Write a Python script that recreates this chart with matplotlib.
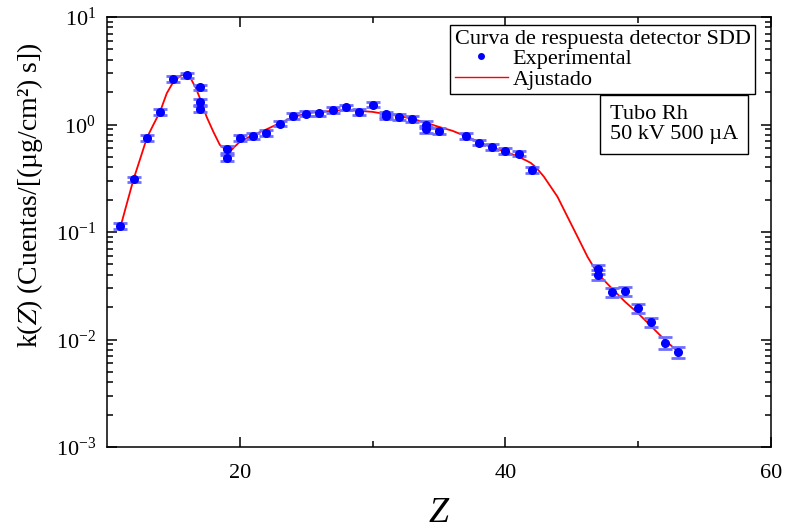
import matplotlib
matplotlib.use("Agg")
import matplotlib.pyplot as plt
from matplotlib.lines import Line2D
from matplotlib.ticker import LogLocator, FixedLocator, NullFormatter
import numpy as np

plt.rcParams["font.family"] = ["Liberation Serif", "DejaVu Serif"]
plt.rcParams["mathtext.fontset"] = "stix"

# Experimental response points
z_exp = [11, 12, 13, 14, 15, 16, 17, 17, 17, 19, 19, 20, 21, 22, 23, 24, 25, 26,
         27, 28, 29, 30, 31, 31, 32, 33, 34, 34, 35, 37, 38, 39, 40, 41, 42,
         47, 47, 48, 49, 50, 51, 52, 53]
k_exp = [0.113, 0.31, 0.75, 1.31, 2.65, 2.87, 2.22, 1.63, 1.39, 0.587, 0.49, 0.75,
         0.78, 0.83, 1.02, 1.20, 1.26, 1.27, 1.36, 1.45, 1.31, 1.53, 1.24, 1.19,
         1.18, 1.13, 1.00, 0.90, 0.87, 0.79, 0.68, 0.62, 0.57, 0.535, 0.378,
         0.045, 0.040, 0.0275, 0.028, 0.0195, 0.0145, 0.0093, 0.0077]
k_err = [0.007, 0.018, 0.045, 0.08, 0.15, 0.16, 0.13, 0.10, 0.09, 0.04, 0.035, 0.045,
         0.045, 0.05, 0.06, 0.07, 0.07, 0.07, 0.08, 0.08, 0.08, 0.09, 0.07, 0.07,
         0.07, 0.065, 0.07, 0.06, 0.05, 0.05, 0.04, 0.04, 0.035, 0.03, 0.025,
         0.0045, 0.004, 0.0025, 0.0025, 0.002, 0.0015, 0.0012, 0.0009]

# Fitted response curve
z_fit = [11, 11.5, 12, 12.5, 13, 13.5, 14, 14.5, 15, 15.5, 15.8, 16.3, 16.7, 17,
         17.5, 18, 18.5, 19.2, 19.6, 20, 21, 22, 23, 24, 25, 26, 27, 28, 29, 30,
         31, 32, 33, 34, 35, 36, 37, 38, 39, 40, 41, 41.6, 41.9, 42.3, 42.9, 43.4,
         43.92, 44.67, 45.43, 46.18, 46.93, 48, 49, 50, 51, 52, 53]
k_fit = [0.11, 0.185, 0.31, 0.48, 0.75, 1.0, 1.32, 1.95, 2.5, 2.82, 2.93, 2.69, 2.17,
         1.75, 1.18, 0.86, 0.645, 0.55, 0.62, 0.69, 0.80, 0.90, 1.03, 1.17, 1.27,
         1.31, 1.34, 1.36, 1.34, 1.31, 1.25, 1.20, 1.13, 1.04, 0.95, 0.875, 0.78,
         0.69, 0.61, 0.56, 0.50, 0.46, 0.44, 0.40, 0.327, 0.265, 0.213, 0.139,
         0.0904, 0.0589, 0.0413, 0.030, 0.0225, 0.0175, 0.0132, 0.0099, 0.0077]

x_major = [20, 40, 60]
x_minor = [30, 50]

W, H = 786, 531
fig = plt.figure(figsize=(W / 100, H / 100), dpi=100)
ax = fig.add_axes([107 / W, 1 - 447 / H, (771 - 107) / W, 430 / H])

ax.plot(z_fit, k_fit, color="#ff0000", lw=1.3, zorder=2)
ax.errorbar(z_exp, k_exp, yerr=k_err, fmt="none", ecolor="#6f6fff", elinewidth=1.5,
            capsize=5, capthick=2.0, zorder=3)
ax.plot(z_exp, k_exp, "o", color="#0000ff", ms=5.5, mec="#0000ff", zorder=4)

ax.set_yscale("log")
ax.set_xlim(10, 60)
ax.set_ylim(1e-3, 1e1)

ax.xaxis.set_major_locator(FixedLocator(x_major))
ax.xaxis.set_minor_locator(FixedLocator(x_minor))
ax.yaxis.set_major_locator(LogLocator(base=10, numticks=10))
ax.yaxis.set_minor_locator(LogLocator(base=10, subs=np.arange(2, 10), numticks=10))
ax.yaxis.set_minor_formatter(NullFormatter())

ax.tick_params(which="both", direction="in", top=True, right=True, width=1.1,
               labelsize=16)
ax.tick_params(which="major", length=7)
ax.tick_params(which="minor", length=4)
ax.tick_params(axis="x", which="major", pad=12)
ax.tick_params(axis="y", which="major", pad=8)
for s in ax.spines.values():
    s.set_linewidth(1.1)

ax.set_xlabel("Z", fontsize=26, style="italic", labelpad=10)
ax.set_ylabel(r"k($Z$) (Cuentas/[(µg/cm²) s])", fontsize=20)
ax.yaxis.set_label_coords(-0.093, 0.586)

handles = [
    Line2D([], [], ls="none", marker="o", color="#0000ff", ms=4),
    Line2D([], [], color="#ff0000", lw=1.0),
]
leg = ax.legend(handles, ["Experimental", "Ajustado"],
                title="Curva de respuesta detector SDD", title_fontsize=16,
                fontsize=16, loc="upper right", bbox_to_anchor=(0.976, 0.981),
                frameon=True, fancybox=False, edgecolor="black", framealpha=1,
                handlelength=2.4, handletextpad=0.2, borderpad=0.2,
                labelspacing=0.0, borderaxespad=0, alignment="left")
leg.get_frame().set_linewidth(1.0)

ax.text(0.7575, 0.795, "Tubo Rh\n50 kV 500 µA", transform=ax.transAxes,
        ha="left", va="top", fontsize=16, linespacing=1.05,
        bbox=dict(boxstyle="square,pad=0.45", fc="white", ec="black", lw=1.0))

fig.savefig("out.png", dpi=100)
